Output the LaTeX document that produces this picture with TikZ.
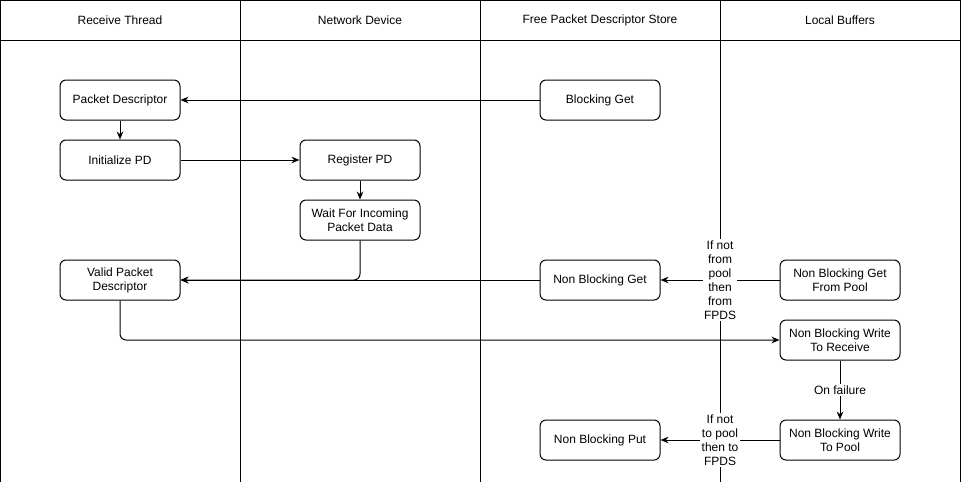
\documentclass[tikz,border=0pt]{standalone}
\usepackage{fontspec}
\setmainfont{Liberation Sans}
\usetikzlibrary{arrows.meta}
\begin{document}
\begin{tikzpicture}[x=0.75pt,y=-0.75pt,line width=0.75pt,
        box/.style={draw=black,rounded corners=4.5pt,minimum width=90pt,minimum height=30pt,align=center,inner sep=1pt},
        cond/.style={fill=white,align=center,inner sep=1pt},
        >={Stealth[length=6pt,width=5pt]},
        font=\fontsize{9}{10.5}\selectfont]
        \useasboundingbox (0,0) rectangle (962,482);
        \draw (0,482) -- (0,0) -- (960,0) -- (960,482);
        \draw (0,40) -- (960,40);
        \foreach \x in {240,480,720} \draw (\x,0) -- (\x,482);

        \node (receive) at (120,20) {Receive Thread};
        \node (device) at (360,20) {Network Device};
        \node (store) at (600,20) {Free Packet Descriptor Store};
        \node (buffers) at (840,20) {Local Buffers};

        \node[box] (descriptor) at (120,100) {Packet Descriptor};
        \node[box] (init) at (120,160) {Initialize PD};
        \node[box] (valid) at (120,280) {Valid Packet\\Descriptor};
        \node[box] (register) at (360,160) {Register PD};
        \node[box] (wait) at (360,220) {Wait For Incoming\\Packet Data};
        \node[box] (blockget) at (600,100) {Blocking Get};
        \node[box] (nbget) at (600,280) {Non Blocking Get};
        \node[box] (nbput) at (600,440) {Non Blocking Put};
        \node[box] (poolget) at (840,280) {Non Blocking Get\\From Pool};
        \node[box] (writerecv) at (840,340) {Non Blocking Write\\To Receive};
        \node[box] (writepool) at (840,440) {Non Blocking Write\\To Pool};

        \draw[->] (blockget) -- (descriptor);
        \draw[->] (descriptor) -- (init);
        \draw[->] (init) -- (register);
        \draw[->] (register) -- (wait);
        \draw[->,rounded corners=4.5pt] (wait.south) |- (valid.east);
        \draw[->] (nbget) -- (valid);
        \draw[->] (poolget) -- node[cond] (fromfpds) {If not\\from\\pool\\then\\from\\FPDS} (nbget);
        \draw[->,rounded corners=4.5pt] (valid.south) |- (writerecv.west);
        \draw[->] (writerecv) -- node[cond] (failure) {On failure} (writepool);
        \draw[->] (writepool) -- node[cond] (tofpds) {If not\\to pool\\then to\\FPDS} (nbput);
    \end{tikzpicture}
\end{document}
